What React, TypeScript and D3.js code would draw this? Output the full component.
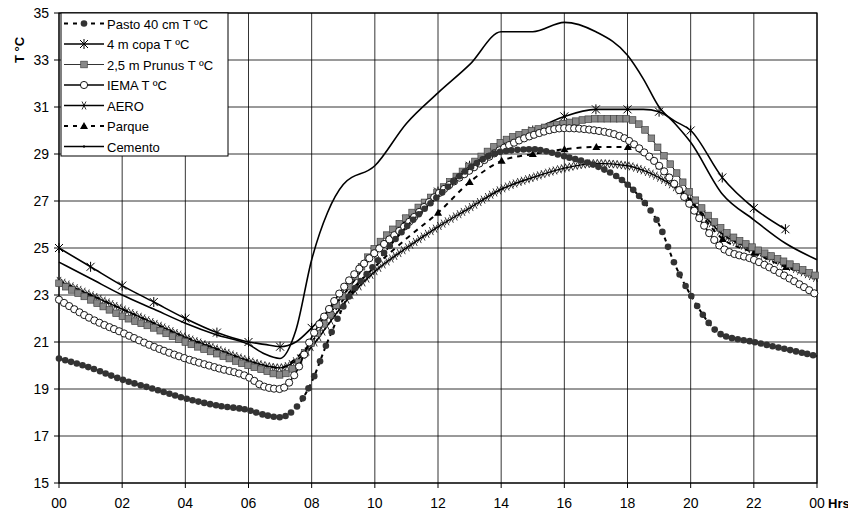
import React, { useEffect, useRef } from "react";
import * as d3 from "d3";

const hours = [0,1,2,3,4,5,6,6.5,7,7.5,8,8.5,9,10,11,12,13,14,15,16,17,18,18.5,19,19.5,20,21,22,23,24];
const pasto =   [20.3,19.9,19.4,19.0,18.6,18.3,18.1,17.9,17.8,18.2,19.3,21.0,22.5,24.3,25.9,27.2,28.4,29.1,29.2,28.9,28.5,27.7,27.0,26.0,24.3,23.0,21.3,21.0,20.7,20.4];
const copa =    [25.0,24.2,23.4,22.7,22.0,21.4,21.0,20.9,20.8,21.0,21.6,22.3,23.0,24.8,26.2,27.4,28.5,29.3,30.0,30.6,30.9,30.9,30.9,30.8,30.4,30.0,28.0,26.7,25.8,NaN];
const prunus =  [23.5,22.8,22.1,21.6,21.0,20.5,20.0,19.8,19.6,20.0,21.0,22.0,23.0,25.0,26.3,27.4,28.5,29.5,30.0,30.3,30.5,30.5,30.1,29.2,28.3,27.3,25.8,25.0,24.4,23.8];
const iema =    [22.8,22.0,21.4,20.8,20.3,19.9,19.5,19.1,19.0,19.7,21.2,22.3,23.3,24.8,26.0,27.3,28.3,29.2,29.8,30.1,30.0,29.6,29.1,28.5,27.7,26.8,25.0,24.5,23.8,23.0];
const aero =    [23.6,23.0,22.4,21.8,21.2,20.7,20.2,20.0,19.9,20.2,20.8,21.7,22.6,24.0,25.0,25.9,26.7,27.5,28.0,28.4,28.6,28.5,28.3,28.0,27.6,27.0,25.6,24.9,24.3,23.7];
const parque =  [23.6,23.0,22.4,21.8,21.2,20.7,20.2,20.0,19.9,20.3,21.0,21.9,22.8,24.2,25.4,26.5,27.8,28.7,29.0,29.2,29.3,29.3,29.0,28.5,27.8,27.0,25.4,24.8,24.2,23.8];
const cemento = [24.4,23.7,23.0,22.4,21.8,21.3,20.9,20.5,20.3,21.5,24.5,26.5,27.7,28.5,30.3,31.6,32.8,34.2,34.2,34.6,34.2,33.2,32.2,31.0,30.3,29.5,27.3,26.2,25.2,24.5];
const yTicks = [15,17,19,21,23,25,27,29,31,33,35];
const xTicks = [0,2,4,6,8,10,12,14,16,18,20,22,24];
const xLabels = ["00","02","04","06","08","10","12","14","16","18","20","22","00"];
const names = ["Pasto 40 cm T ºC","4 m copa T ºC","2,5 m Prunus T ºC","IEMA T ºC","AERO","Parque","Cemento"];

type Mk = "dot"|"star"|"square"|"circle"|"x"|"tri"|"tick";
const series: {name:string; vals:number[]; mk:Mk; dash?:string; lw:number; step:number}[] = [
  {name:names[6], vals:cemento, mk:"tick", lw:1.6, step:0},
  {name:names[1], vals:copa, mk:"star", lw:1.6, step:-1},
  {name:names[5], vals:parque, mk:"tri", dash:"5,5", lw:2, step:0},
  {name:names[4], vals:aero, mk:"x", lw:1.4, step:4},
  {name:names[2], vals:prunus, mk:"square", lw:1, step:6.3},
  {name:names[3], vals:iema, mk:"circle", lw:1.6, step:5},
  {name:names[0], vals:pasto, mk:"dot", dash:"4,4", lw:2, step:5.8},
];

function drawMarker(g: any, mk: Mk, x: number, y: number) {
  if (mk === "dot") g.append("circle").attr("cx",x).attr("cy",y).attr("r",3.3).attr("fill","#333");
  else if (mk === "square") g.append("rect").attr("x",x-3.3).attr("y",y-3.3).attr("width",6.6).attr("height",6.6).attr("fill","#888").attr("stroke","#444").attr("stroke-width",0.7);
  else if (mk === "circle") g.append("circle").attr("cx",x).attr("cy",y).attr("r",3.6).attr("fill","white").attr("stroke","#000").attr("stroke-width",0.9);
  else if (mk === "star") g.append("path").attr("d",`M${x-4},${y-4}L${x+4},${y+4}M${x-4},${y+4}L${x+4},${y-4}M${x},${y-5}L${x},${y+5}`).attr("stroke","#000").attr("stroke-width",1);
  else if (mk === "x") g.append("path").attr("d",`M${x-2},${y-4}L${x+2},${y+4}M${x-2},${y+4}L${x+2},${y-4}`).attr("stroke","#000").attr("stroke-width",0.8);
  else if (mk === "tri") g.append("path").attr("d",`M${x},${y-4}L${x+4},${y+3}L${x-4},${y+3}Z`).attr("fill","#000");
  else if (mk === "tick") g.append("path").attr("d",`M${x},${y-1.5}L${x},${y+1.5}`).attr("stroke","#000").attr("stroke-width",1);
}

export default function App() {
  const ref = useRef<SVGSVGElement>(null);
  useEffect(() => {
    const svg = d3.select(ref.current);
    svg.selectAll("*").remove();
    const x = d3.scaleLinear().domain([0,24]).range([59,817]);
    const y = d3.scaleLinear().domain([15,35]).range([483,13]);
    const font = "Arial, 'Liberation Sans', sans-serif";
    const grid = svg.append("g");
    yTicks.forEach(t => grid.append("line").attr("x1",59).attr("x2",817).attr("y1",y(t)).attr("y2",y(t)).attr("stroke","#000").attr("stroke-width",0.8));
    xTicks.forEach(t => grid.append("line").attr("y1",13).attr("y2",483).attr("x1",x(t)).attr("x2",x(t)).attr("stroke","#000").attr("stroke-width",0.8));
    svg.append("rect").attr("x",59).attr("y",13).attr("width",758).attr("height",470).attr("fill","none").attr("stroke","#000").attr("stroke-width",1.2);
    yTicks.forEach(t => {
      svg.append("line").attr("x1",54).attr("x2",59).attr("y1",y(t)).attr("y2",y(t)).attr("stroke","#000");
      svg.append("text").attr("x",49).attr("y",y(t)+5).attr("text-anchor","end").attr("font-family",font).attr("font-size",14).text(String(t));
    });
    xTicks.forEach((t,i) => {
      svg.append("line").attr("y1",483).attr("y2",488).attr("x1",x(t)).attr("x2",x(t)).attr("stroke","#000");
      svg.append("text").attr("x",x(t)).attr("y",508).attr("text-anchor","middle").attr("font-family",font).attr("font-size",14).text(xLabels[i]);
    });
    svg.append("text").attr("x",828).attr("y",508).attr("font-family",font).attr("font-size",13).attr("font-weight","bold").text("Hrs");
    svg.append("text").attr("transform","translate(24,50) rotate(-90)").attr("text-anchor","middle").attr("font-family",font).attr("font-size",13).attr("font-weight","bold").text("T °C");

    const plot = svg.append("g");
    series.forEach(s => {
      const pts: [number,number][] = hours.map((h,i)=>[h,s.vals[i]] as [number,number]).filter(p=>!isNaN(p[1]));
      const line = d3.line<[number,number]>().x(d=>x(d[0])).y(d=>y(d[1])).curve(d3.curveMonotoneX);
      const p = plot.append("path").attr("d",line(pts)).attr("fill","none").attr("stroke","#000").attr("stroke-width",s.lw).attr("stroke-dasharray",s.dash||null);
      const node = p.node() as SVGPathElement;
      const mg = plot.append("g");
      if (s.step < 0) {
        pts.filter(d=>Number.isInteger(d[0])).forEach(d=>drawMarker(mg,s.mk,x(d[0]),y(d[1])));
      } else if (s.step > 0) {
        const L = node.getTotalLength();
        let nextX = x(pts[0][0]);
        for (let l = 0; l <= L; l += 0.5) {
          const pt = node.getPointAtLength(l);
          if (pt.x >= nextX) { drawMarker(mg,s.mk,pt.x,pt.y); nextX += s.step; }
        }
      } else if (s.mk === "tri") {
        const L = node.getTotalLength();
        let nextX = x(12);
        for (let l = 0; l <= L; l += 0.5) {
          const pt = node.getPointAtLength(l);
          if (pt.x >= nextX) { drawMarker(mg,s.mk,pt.x,pt.y); nextX += 31.6; }
        }
      }
    });

    const lg = svg.append("g");
    lg.append("rect").attr("x",61).attr("y",13).attr("width",167).attr("height",143).attr("fill","white").attr("stroke","#000");
    const order: [Mk,string|undefined,number][] = [["dot","4,5",2],["star",undefined,1.6],["square",undefined,0.8],["circle",undefined,1.6],["x",undefined,1.6],["tri","4,5",2],["tick",undefined,1.6]];
    names.forEach((n,i) => {
      const yy = 23.5 + i*20.5;
      lg.append("line").attr("x1",64).attr("x2",104).attr("y1",yy).attr("y2",yy).attr("stroke","#000").attr("stroke-width",order[i][2]).attr("stroke-dasharray",order[i][1]||null);
      drawMarker(lg,order[i][0],84,yy);
      lg.append("text").attr("x",107).attr("y",yy+5).attr("font-family",font).attr("font-size",13).text(n);
    });
  }, []);
  return <svg ref={ref} width={856} height={516} style={{display:"block", marginTop:-8, marginLeft:-8}} />;
}
